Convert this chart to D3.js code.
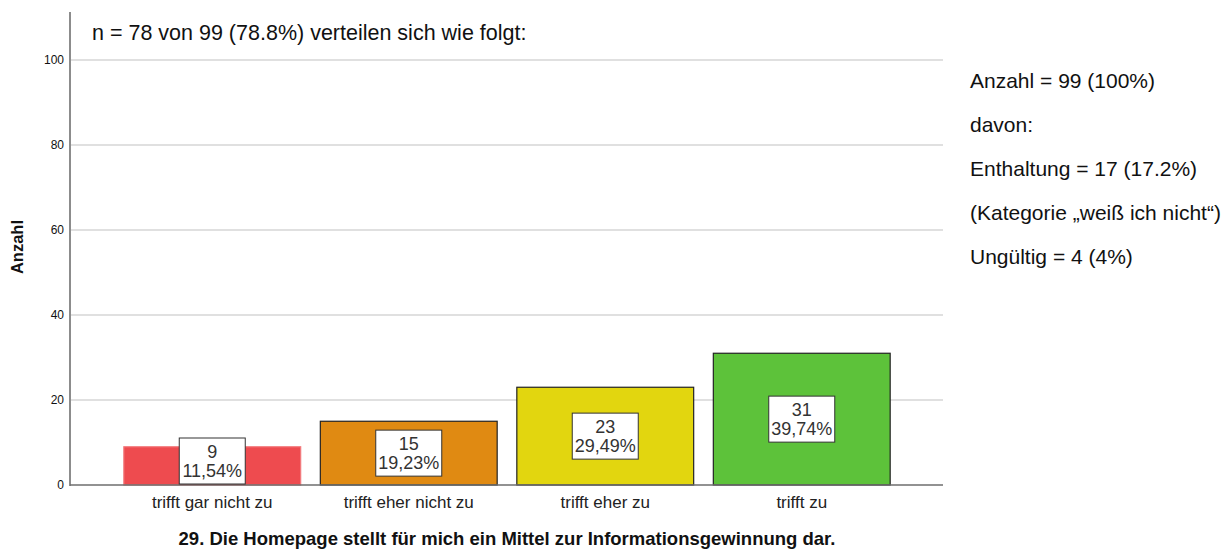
<!DOCTYPE html>
<html>
<head>
<meta charset="utf-8">
<script src="https://cdn.jsdelivr.net/npm/d3@7"></script>
<style>
  body { margin: 0; background: #fff; }
  text { font-family: "Liberation Sans", Arial, sans-serif; }
</style>
</head>
<body>
<script>
// chart data
var categories = ["trifft gar nicht zu", "trifft eher nicht zu", "trifft eher zu", "trifft zu"];
var counts = [9, 15, 23, 31];
var percents = ["11,54%", "19,23%", "29,49%", "39,74%"];
var colors = ["#ee4b4f", "#e08a12", "#e2d60f", "#5dc23a"];
var strokes = ["#f27a7d", "#222", "#222", "#222"];
var yTicks = [0, 20, 40, 60, 80, 100];
var headerText = "n = 78 von 99 (78.8%) verteilen sich wie folgt:";
var sideNotes = ["Anzahl = 99 (100%)", "davon:", "Enthaltung = 17 (17.2%)",
                 "(Kategorie \u201eweiß ich nicht\u201c)", "Ungültig = 4 (4%)"];
var xTitle = "29. Die Homepage stellt für mich ein Mittel zur Informationsgewinnung dar.";
var yTitle = "Anzahl";

var width = 1225, height = 549;
var svg = d3.select("body").append("svg")
    .attr("width", width)
    .attr("height", height);

var x = d3.scaleBand()
    .domain(categories)
    .range([114, 900])
    .paddingInner(0.1)
    .paddingOuter(0.05);

var y = d3.scaleLinear()
    .domain([0, 100])
    .range([485, 60]);

// grid lines
svg.append("g").selectAll("line")
    .data(yTicks.filter(function(d) { return d > 0; }))
    .enter().append("line")
    .attr("x1", 70).attr("x2", 943)
    .attr("y1", function(d) { return y(d); })
    .attr("y2", function(d) { return y(d); })
    .attr("stroke", "#d6d6d6")
    .attr("stroke-width", 1.5);

// y axis
var yAxis = svg.append("g")
    .attr("transform", "translate(70,0)")
    .call(d3.axisLeft(y).tickValues(yTicks).tickSize(0).tickPadding(6));
yAxis.select(".domain").remove();
yAxis.selectAll("text")
    .style("font-family", "'Liberation Sans', Arial, sans-serif")
    .style("font-size", "12px")
    .attr("fill", "#111");

svg.append("line")
    .attr("x1", 70).attr("x2", 70)
    .attr("y1", 12).attr("y2", 486)
    .attr("stroke", "#8c8c8c")
    .attr("stroke-width", 2);

// bars
svg.append("g").selectAll("rect")
    .data(categories)
    .enter().append("rect")
    .attr("x", function(d) { return x(d); })
    .attr("width", x.bandwidth())
    .attr("y", function(d, i) { return y(counts[i]); })
    .attr("height", function(d, i) { return y(0) - y(counts[i]); })
    .attr("fill", function(d, i) { return colors[i]; })
    .attr("stroke", function(d, i) { return strokes[i]; })
    .attr("stroke-width", 1.2);

// baseline
svg.append("line")
    .attr("x1", 70).attr("x2", 943)
    .attr("y1", y(0)).attr("y2", y(0))
    .attr("stroke", "#6e6e6e")
    .attr("stroke-width", 1.5);

// value labels in boxes
var boxW = 66, boxH = 46;
var labels = svg.append("g").selectAll("g")
    .data(categories)
    .enter().append("g")
    .attr("transform", function(d, i) {
      var cx = x(d) + x.bandwidth() / 2;
      var cy = (y(counts[i]) + y(0)) / 2;
      var top = Math.min(cy - boxH / 2, y(0) - 1 - boxH);
      return "translate(" + cx + "," + top + ")";
    });
labels.append("rect")
    .attr("x", -boxW / 2).attr("y", 0)
    .attr("width", boxW).attr("height", boxH)
    .attr("fill", "#fff")
    .attr("stroke", "#333")
    .attr("stroke-width", 1);
labels.append("text")
    .attr("x", 0).attr("y", 20)
    .attr("text-anchor", "middle")
    .style("font-size", "18px")
    .attr("fill", "#333")
    .text(function(d, i) { return counts[i]; });
labels.append("text")
    .attr("x", 0).attr("y", 39)
    .attr("text-anchor", "middle")
    .style("font-size", "18px")
    .attr("fill", "#333")
    .text(function(d, i) { return percents[i]; });

// category labels
svg.append("g").selectAll("text")
    .data(categories)
    .enter().append("text")
    .attr("x", function(d) { return x(d) + x.bandwidth() / 2; })
    .attr("y", 508)
    .attr("text-anchor", "middle")
    .style("font-size", "17px")
    .attr("fill", "#222")
    .text(function(d) { return d; });

// axis titles
svg.append("text")
    .attr("x", 507).attr("y", 545)
    .attr("text-anchor", "middle")
    .style("font-size", "18.5px")
    .style("font-weight", "bold")
    .attr("fill", "#111")
    .text(xTitle);

svg.append("text")
    .attr("transform", "translate(23,247) rotate(-90)")
    .attr("text-anchor", "middle")
    .style("font-size", "16.5px")
    .style("font-weight", "bold")
    .attr("fill", "#111")
    .text(yTitle);

// header
svg.append("text")
    .attr("x", 92).attr("y", 40)
    .style("font-size", "21.5px")
    .attr("fill", "#111")
    .text(headerText);

// side notes
svg.append("g").selectAll("text")
    .data(sideNotes)
    .enter().append("text")
    .attr("x", 970)
    .attr("y", function(d, i) { return 88 + i * 44; })
    .style("font-size", "21px")
    .attr("fill", "#111")
    .text(function(d) { return d; });
</script>
</body>
</html>
